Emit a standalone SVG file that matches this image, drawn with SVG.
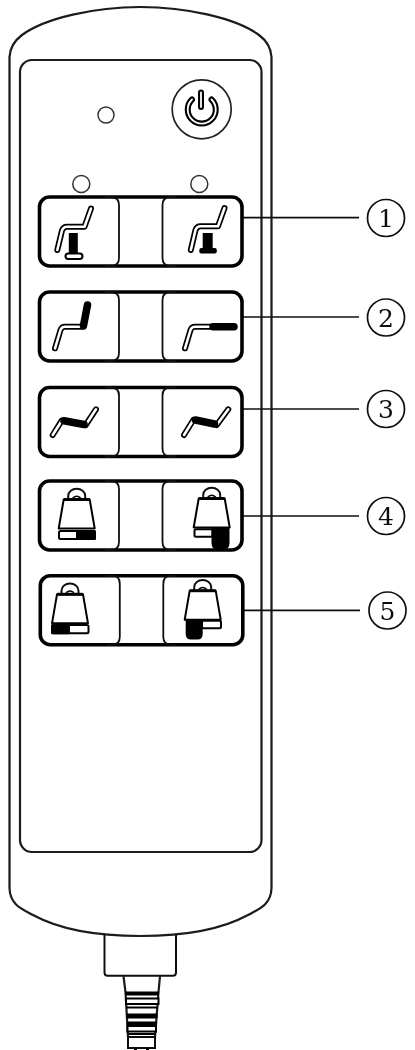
<svg xmlns="http://www.w3.org/2000/svg" width="415" height="1050" viewBox="0 0 415 1050">
<style>
.ln{fill:none;stroke:#111;stroke-width:2}
.hv{fill:none;stroke:#1a1a1a;stroke-width:2.2}
.row{fill:#fff;stroke:#000;stroke-width:3.6}
.btn{fill:none;stroke:#111;stroke-width:1.8}
.led{fill:#fff;stroke:#333;stroke-width:1.5}
.out{fill:none;stroke:#000;stroke-width:6;stroke-linecap:round;stroke-linejoin:round}
.inn{fill:none;stroke:#fff;stroke-width:2.6;stroke-linecap:round;stroke-linejoin:round}
.blk{fill:none;stroke:#000;stroke-width:7.500;stroke-linecap:round;stroke-linejoin:round}
.sol{fill:#000}
.wb{fill:#fff;stroke:#000;stroke-width:2}
.lead{fill:none;stroke:#111;stroke-width:1.7}
.num{fill:#fff;stroke:#111;stroke-width:1.7}
.dig{font-family:"DejaVu Serif","Liberation Serif",serif;font-size:25px;fill:#111;text-anchor:middle}
</style>
<defs>
<filter id="soft" x="-2%" y="-2%" width="104%" height="104%"><feGaussianBlur stdDeviation="0.35"/></filter>
<g id="weight">
<path class="ln" d="M-8.500 -1V-3.500C-8.500 -8 -4.500 -10.700 0 -10.700C4.500 -10.700 8.500 -8 8.500 -3.500V-1"/>
<path d="M-13 0H13L18 29H-18Z" fill="#fff" stroke="#000" stroke-width="2" stroke-linejoin="round"/>
<path d="M-13 0H13" stroke="#000" stroke-width="3"/>
<path d="M-4 -1.500Q0 -5 4 -1.500" fill="none" stroke="#000" stroke-width="1.500"/>
</g>
<g id="row-frame">
<rect class="row" x="39.500" y="0" width="202.500" height="69" rx="10"/>
<path class="btn" d="M105 0H111Q119 0 119 8V61Q119 69 111 69H105"/>
<path class="btn" d="M176 0H170.500Q162.500 0 162.500 8V61Q162.500 69 170.500 69H176"/>
</g>
</defs>
<g filter="url(#soft)">
<g id="body">
<path class="hv" d="M9.500 57C10 48 14 41 22 35C45 18 95 7 140.500 7C186 7 236 18 259 35C267 41 271 48 271.500 57V888C271 905 259 909 248 915C226 927 191 936 140.500 936C90 936 55 927 33 915C22 909 10 905 9.500 888Z" fill="#fff"/>
<rect class="hv" x="20" y="60" width="241.500" height="792" rx="12"/>
</g>
<g id="cable">
<path class="ln" d="M104.500 935V972.500Q104.500 975.700 107.500 975.700H173Q176 975.700 176 972.500V935"/>
<path class="hv" d="M123.500 976L125.500 992L128 1037M160 976L158.500 992L155 1037"/>
<path class="sol" d="M125 991.500H159V995.500H125.500Z"/>
<rect class="wb" x="126" y="998.500" width="32.500" height="5.500"/>
<path class="sol" d="M126.500 1006.500H158V1008.500H126.500ZM126.500 1013.500H157.500V1018.500H126.500ZM127 1021.500H157V1025H127Z"/>
<rect class="wb" x="127.500" y="1026" width="28.500" height="5.500"/>
<path class="sol" d="M127.500 1033H155.500V1035H127.500Z"/>
<rect class="ln" x="128" y="1037" width="27" height="11"/>
<path class="sol" d="M134 1048h3v2h-3zM146 1048h3v2h-3z"/>
</g>
<g id="power">
<circle cx="201.700" cy="109.300" r="29.500" fill="#fff" stroke="#222" stroke-width="1.700"/>
<path class="out" d="M192 99.500A14 14 0 1 0 211.500 99.500" style="stroke-width:6"/>
<path class="inn" d="M192 99.500A14 14 0 1 0 211.500 99.500" style="stroke-width:1.800"/>
<path class="out" d="M201 92.500V107"/>
<path class="inn" d="M201 92.500V107" style="stroke-width:1.800"/>
</g>
<g id="leds">
<circle class="led" cx="106" cy="115" r="8"/>
<circle class="led" cx="81.300" cy="184" r="8.500"/>
<circle class="led" cx="199.300" cy="184" r="8.500"/>
</g>
<g id="connectors">
<path class="lead" d="M242 217.700H359M242 317H359M242 409H359M242 516H359M243 610.300H360"/>
</g>
<g id="row1">
<use href="#row-frame" y="197"/>
<path class="sol" d="M68.800 233H77.800V254H68.800Z"/>
<rect class="wb" x="65.500" y="253.500" width="17" height="5.500" rx="2.700"/>
<path class="out" d="M91 208.500L84.500 226.700H67Q63.300 226.700 62 230.500L57.300 250"/>
<path class="inn" d="M91 208.500L84.500 226.700H67Q63.300 226.700 62 230.500L57.300 250"/>
<path class="sol" d="M202.700 233H212.700V249H202.700Z"/>
<rect class="sol" x="199.300" y="248" width="17.500" height="5.500" rx="2"/>
<path class="out" d="M224.500 208L218 226.200H200.500Q196.800 226.200 195.500 230L190.800 250"/>
<path class="inn" d="M224.500 208L218 226.200H200.500Q196.800 226.200 195.500 230L190.800 250"/>
</g>
<g id="row2">
<use href="#row-frame" y="292"/>
<path class="out" d="M83.500 326.700H65Q61.700 326.700 60.500 330L55 348.300"/>
<path class="inn" d="M83.500 326.700H65Q61.700 326.700 60.500 330L55 348.300"/>
<path class="blk" d="M87.500 305L83.500 325.500"/>
<path class="out" d="M211.700 326.700H195Q191.700 326.700 190.500 330L185 348.300"/>
<path class="inn" d="M211.700 326.700H195Q191.700 326.700 190.500 330L185 348.300"/>
<path class="blk" d="M213 326.700H234"/>
</g>
<g id="row3">
<use href="#row-frame" y="387.500"/>
<path class="out" d="M96 409.300L85.700 425"/>
<path class="inn" d="M96 409.300L85.700 425"/>
<path class="out" d="M61.700 420.700L52.700 435"/>
<path class="inn" d="M61.700 420.700L52.700 435"/>
<path class="blk" d="M84 424.500L64 420.700"/>
<path class="out" d="M228.300 409.300L216.700 425"/>
<path class="inn" d="M228.300 409.300L216.700 425"/>
<path class="out" d="M193.300 420L184 435"/>
<path class="inn" d="M193.300 420L184 435"/>
<path class="blk" d="M214.500 424L195.500 420"/>
</g>
<g id="row4">
<use href="#row-frame" y="481"/>
<use href="#weight" x="76.700" y="499.500"/>
<rect class="wb" x="59" y="531" width="36" height="8" rx="1.500"/>
<rect class="sol" x="76" y="530" width="20" height="10" rx="1.500"/>
<use href="#weight" x="211.700" y="498.500"/>
<rect class="wb" x="194.500" y="529.300" width="18" height="7.500" rx="1.500"/>
<path class="sol" d="M211.500 527.500H229.500V543Q229.500 550 222.500 550H218.500Q211.500 550 211.500 543Z"/>
</g>
<g id="row5">
<use href="#row-frame" x="0.800" y="575.700"/>
<use href="#weight" x="70" y="594.300"/>
<rect class="wb" x="52" y="625" width="36.500" height="8.300" rx="1.500"/>
<rect class="sol" x="51" y="624" width="19" height="10.300" rx="1.500"/>
<use href="#weight" x="202.700" y="590.700"/>
<rect class="wb" x="202" y="620.700" width="19" height="7.500" rx="1.500"/>
<path class="sol" d="M185.700 619H202.700V634Q202.700 639.500 197.500 639.500H191Q185.700 639.500 185.700 634Z"/>
</g>
<g id="label-1"><circle class="num" cx="386" cy="218" r="18.500"/><text class="dig" x="386" y="227">1</text></g>
<g id="label-2"><circle class="num" cx="386" cy="317.500" r="18.500"/><text class="dig" x="386" y="326.500">2</text></g>
<g id="label-3"><circle class="num" cx="386" cy="409" r="18.500"/><text class="dig" x="386" y="418">3</text></g>
<g id="label-4"><circle class="num" cx="386" cy="516" r="18.500"/><text class="dig" x="386" y="525">4</text></g>
<g id="label-5"><circle class="num" cx="387.500" cy="610.500" r="18.500"/><text class="dig" x="387.500" y="619.500">5</text></g>
</g>
</svg>
